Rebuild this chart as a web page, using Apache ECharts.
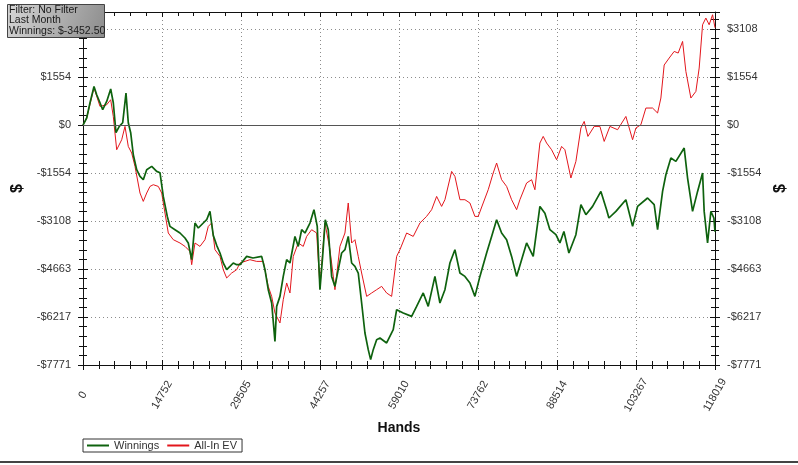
<!DOCTYPE html>
<html>
<head>
<meta charset="utf-8">
<script src="https://cdn.jsdelivr.net/npm/echarts/dist/echarts.min.js"></script>
<style>
html,body{margin:0;padding:0;background:#fff;}
#chart{width:798px;height:465px;}
</style>
</head>
<body>
<div id="chart"></div>
<script>
// ---- data ----
const seriesNames = ['Winnings', 'All-In EV'];

const winHands = [0,690,1307,2054,2558,3174,3678,4425,5172,5657,6161,6777,7412,8028,8458,8906,9391,10026,10642,11258,11893,12827,13760,14376,14992,15739,16243,17176,18110,19043,19659,20294,20910,21527,22460,23095,23711,24327,24962,25578,26194,26829,27445,28061,28696,29312,30563,31739,33363,33979,34596,35231,35846,36164,36780,37396,38031,38647,39580,40196,40831,41447,42381,43128,43744,44248,44752,45237,45797,46432,47048,47665,48299,48915,49531,50166,50782,51399,52033,52649,53266,53714,54199,54834,55450,56700,57933,58568,59800,61368,62302,63534,64468,65718,66652,67585,68519,69452,70386,71319,72253,73186,74120,75371,76304,77238,78171,79105,80038,80972,81905,82839,84071,85322,86256,87189,88309,89056,89803,90736,92043,92977,93910,95161,96711,97775,98204,99511,101378,102629,103562,105429,106662,107296,108230,108846,109780,110713,112263,112898,113831,114765,115698,115997,116632,117248,117808,118019];
const winValues = [0,227,722,1250,981,722,495,764,1166,722,-249,-45,74,1036,74,-249,-962,-1447,-1664,-1771,-1447,-1340,-1502,-1544,-2312,-2959,-3283,-3390,-3497,-3658,-3820,-4361,-3173,-3335,-3173,-3066,-2797,-3573,-3896,-4144,-4468,-4685,-4578,-4468,-4523,-4523,-4254,-4306,-4254,-4685,-5332,-5763,-7006,-5873,-5549,-4902,-4361,-4468,-3607,-3930,-3390,-3497,-3173,-2742,-3283,-5332,-4254,-3066,-3390,-4902,-5225,-4685,-4144,-4037,-3607,-4468,-4578,-4792,-5763,-6734,-7274,-7598,-7274,-6951,-6896,-7058,-6627,-5980,-6087,-6197,-5873,-5439,-5873,-4902,-5763,-5332,-4468,-4037,-4792,-4902,-5115,-5549,-4902,-4144,-3607,-3066,-3497,-3713,-4254,-4902,-4361,-3820,-4254,-2635,-2856,-3390,-3552,-3820,-3445,-4144,-3552,-2580,-2904,-2635,-2150,-2742,-3011,-2797,-2418,-3283,-2635,-2363,-2580,-3390,-2150,-1609,-1068,-1178,-745,-1716,-2797,-2150,-1554,-2797,-3820,-2797,-3011,-3452.5];

const evHands = [0,690,2054,3174,4425,5172,5657,6292,7225,7841,8458,9092,9708,10642,11258,11893,12509,13125,14059,14693,15309,15926,16859,18110,19043,19977,20294,20910,21844,22777,23393,24028,24644,25578,26194,26829,27762,28696,29312,31179,32430,33662,34596,35231,35846,36780,37396,38031,38647,39263,40196,41130,41765,42698,43632,44248,45182,46115,47048,47982,48915,49531,50166,50782,51399,52033,52967,53900,54834,55768,56700,57634,58568,59184,60435,61667,62918,64169,65102,66036,66969,67585,68836,69452,70386,71319,72253,73186,73802,74736,75670,76603,77238,78171,79105,80038,80972,81588,82839,83773,84389,85322,85938,86573,87507,88440,89374,89989,91110,92043,92977,93593,94284,95460,96524,97327,98391,99829,101378,102629,103245,104179,105112,106363,107296,107913,108529,109463,110397,111144,111965,112581,113515,114448,115064,115698,116314,116930,117565,118019];
const evValues = [0,227,1208,602,657,819,278,-800,-476,-45,-693,-907,-1340,-2202,-2473,-2202,-1988,-1933,-1988,-2202,-2849,-3497,-3713,-3820,-3930,-4092,-4523,-3820,-3930,-3713,-3283,-3173,-4037,-4254,-4685,-4953,-4792,-4685,-4468,-4361,-4416,-4416,-5225,-5549,-6087,-6410,-5656,-5115,-5439,-4254,-3820,-3930,-3607,-3390,-3497,-5225,-3173,-4037,-5332,-3930,-3497,-2525,-3820,-3713,-4254,-4792,-5549,-5439,-5332,-5225,-5439,-5549,-4254,-4037,-3497,-3607,-3173,-2957,-2742,-2312,-2635,-2418,-1502,-1664,-2418,-2418,-2525,-2959,-2959,-2525,-2095,-1554,-1230,-1771,-1988,-2418,-2742,-2418,-1878,-1771,-2095,-583,-369,-583,-800,-1123,-693,-800,-1716,-1178,-97,117,-369,-45,-45,-531,-45,-152,278,-476,-97,10,550,550,389,874,1943,2169,2383,2331,2707,1735,874,1088,1845,3247,3464,3247,3571,3150];

const xMin = 0, xMax = 118019, xStep = 118019 / 8;
const yMin = -7771, yMax = 3660, yStep = 1554.2;
const infoLines = ['Filter: No Filter', 'Last Month', 'Winnings: $-3452.50'];
const xTitle = 'Hands';
const yTitle = '$';

// ---- chart ----
const zip = (a, b) => a.map((v, i) => [v, b[i]]);
const FONT = '"Liberation Sans", Arial, sans-serif';
const axisColor = '#111';

function dollar(v) {
  if (Math.abs(v - yMax) < 1) return '';
  const r = Math.round(v);
  if (r === 0) return '$0';
  return (r < 0 ? '-$' : '$') + Math.abs(r);
}

const yBase = { type: 'value', min: yMin, max: yMax, interval: yStep };
const xBase = { type: 'value', min: xMin, max: xMax, interval: xStep };
const tickStyle = { color: axisColor };
const gridStyle = { type: [1, 3], color: '#8c8c8c' };

const chart = echarts.init(document.getElementById('chart'), null, { renderer: 'canvas' });
chart.setOption({
  animation: false,
  backgroundColor: '#ffffff',
  grid: { left: 83, right: 83, top: 12, bottom: 100, containLabel: false },
  legend: {
    data: seriesNames,
    left: 83, top: 439,
    icon: 'rect', itemWidth: 22, itemHeight: 2, itemGap: 8,
    padding: [1, 5, 1, 4],
    backgroundColor: '#fff', borderColor: '#333', borderWidth: 1, borderRadius: 0,
    textStyle: { fontFamily: FONT, fontSize: 11, color: '#333' }
  },
  xAxis: [
    Object.assign({}, xBase, {
      position: 'bottom',
      name: xTitle, nameLocation: 'middle', nameGap: 52,
      nameTextStyle: { fontFamily: FONT, fontSize: 14, fontWeight: 'bold', color: '#111' },
      axisLine: { show: true, onZero: false, lineStyle: tickStyle },
      axisTick: { show: true, length: 5, lineStyle: tickStyle },
      minorTick: { show: true, splitNumber: 5, length: 4, lineStyle: tickStyle },
      axisLabel: {
        rotate: 60, align: 'center', verticalAlign: 'middle', margin: 30,
        fontFamily: FONT, fontSize: 11, color: '#333',
        formatter: v => String(Math.round(v))
      },
      splitLine: { show: true, lineStyle: gridStyle }
    }),
    Object.assign({}, xBase, {
      position: 'bottom',
      axisLine: { show: false, onZero: false },
      axisTick: { show: true, inside: true, length: 5, lineStyle: tickStyle },
      minorTick: { show: true, splitNumber: 5, length: 4, lineStyle: tickStyle },
      axisLabel: { show: false }, splitLine: { show: false }
    }),
    Object.assign({}, xBase, {
      position: 'top',
      axisLine: { show: true, onZero: false, lineStyle: tickStyle },
      axisTick: { show: true, inside: true, length: 5, lineStyle: tickStyle },
      minorTick: { show: true, splitNumber: 5, length: 4, lineStyle: tickStyle },
      axisLabel: { show: false }, splitLine: { show: false }
    })
  ],
  yAxis: [
    Object.assign({}, yBase, {
      position: 'left',
      name: yTitle, nameLocation: 'middle', nameGap: 49, nameRotate: 90,
      nameTextStyle: { fontFamily: FONT, fontSize: 16, fontWeight: 'bold', color: '#111' },
      axisLine: { show: true, onZero: false, lineStyle: tickStyle },
      axisTick: { show: true, length: 5, lineStyle: tickStyle },
      minorTick: { show: true, splitNumber: 5, length: 4, lineStyle: tickStyle },
      axisLabel: { margin: 12, fontFamily: FONT, fontSize: 11, color: '#333', showMaxLabel: false, formatter: dollar },
      splitLine: { show: true, lineStyle: gridStyle }
    }),
    Object.assign({}, yBase, {
      position: 'left',
      axisLine: { show: false, onZero: false },
      axisTick: { show: true, inside: true, length: 5, lineStyle: tickStyle },
      minorTick: { show: true, splitNumber: 5, length: 4, lineStyle: tickStyle },
      axisLabel: { show: false }, splitLine: { show: false }
    }),
    Object.assign({}, yBase, {
      position: 'right',
      name: yTitle, nameLocation: 'middle', nameGap: 43, nameRotate: 90,
      nameTextStyle: { fontFamily: FONT, fontSize: 16, fontWeight: 'bold', color: '#111' },
      axisLine: { show: true, onZero: false, lineStyle: tickStyle },
      axisTick: { show: true, length: 5, lineStyle: tickStyle },
      minorTick: { show: true, splitNumber: 5, length: 4, lineStyle: tickStyle },
      axisLabel: { margin: 12, fontFamily: FONT, fontSize: 11, color: '#333', showMaxLabel: false, formatter: dollar },
      splitLine: { show: false }
    }),
    Object.assign({}, yBase, {
      position: 'right',
      axisLine: { show: false, onZero: false },
      axisTick: { show: true, inside: true, length: 5, lineStyle: tickStyle },
      minorTick: { show: true, splitNumber: 5, length: 4, lineStyle: tickStyle },
      axisLabel: { show: false }, splitLine: { show: false }
    })
  ],
  series: [
    {
      name: seriesNames[1], type: 'line', xAxisIndex: 0, yAxisIndex: 0,
      data: zip(evHands, evValues),
      showSymbol: false, symbol: 'none',
      color: '#e3161c',
      lineStyle: { width: 1, color: '#e3161c' },
      markLine: {
        silent: true, symbol: ['none', 'none'], label: { show: false },
        lineStyle: { color: '#555', type: 'solid', width: 1 },
        data: [{ yAxis: 0 }]
      },
      z: 2
    },
    {
      name: seriesNames[0], type: 'line', xAxisIndex: 0, yAxisIndex: 0,
      data: zip(winHands, winValues),
      showSymbol: false, symbol: 'none',
      color: '#0e620e',
      lineStyle: { width: 1.7, color: '#0e620e' },
      z: 3
    }
  ],
  graphic: [
    {
      type: 'line', z: 100, zlevel: 1,
      shape: { x1: 0, y1: 462, x2: 798, y2: 462 },
      style: { stroke: '#444', lineWidth: 2 }
    },
    {
      type: 'rect', z: 100, zlevel: 1,
      shape: { x: 7.5, y: 4.5, width: 97, height: 33 },
      style: {
        fill: new echarts.graphic.LinearGradient(0, 0, 1, 1, [
          { offset: 0, color: '#d6d6d6' }, { offset: 1, color: '#8c8c8c' }
        ]),
        stroke: '#444', lineWidth: 1
      }
    },
    { type: 'text', z: 101, zlevel: 1, x: 9, y: 10.5, style: { text: infoLines[0], font: '10.5px "Liberation Sans", Arial, sans-serif', fill: '#1a1a1a', verticalAlign: 'middle' } },
    { type: 'text', z: 101, zlevel: 1, x: 9, y: 20.5, style: { text: infoLines[1], font: '10.5px "Liberation Sans", Arial, sans-serif', fill: '#1a1a1a', verticalAlign: 'middle' } },
    { type: 'text', z: 101, zlevel: 1, x: 9, y: 31.5, style: { text: infoLines[2], font: '10.5px "Liberation Sans", Arial, sans-serif', fill: '#1a1a1a', verticalAlign: 'middle' } }
  ]
});
</script>
</body>
</html>
